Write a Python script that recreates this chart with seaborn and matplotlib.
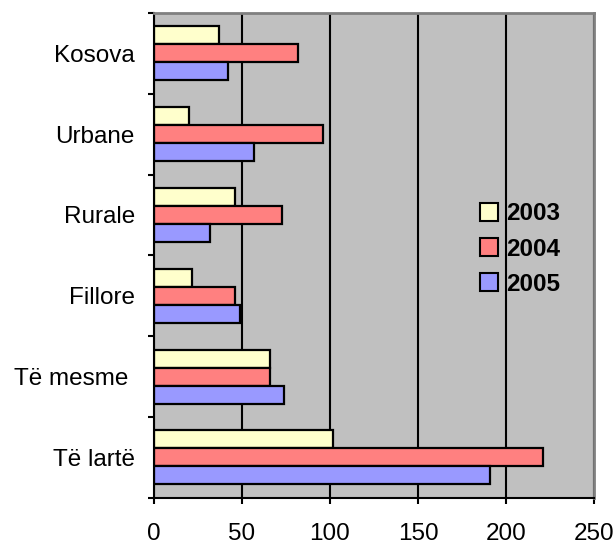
# Grouped horizontal bars, 2003-2005
import matplotlib
matplotlib.use("Agg")
import matplotlib.pyplot as plt
import seaborn as sns
import pandas as pd

categories = ["Kosova", "Urbane", "Rurale", "Fillore", "Të mesme ", "Të lartë"]
years = ["2003", "2004", "2005"]
v2003 = [37, 20, 46, 22, 66, 102]
v2004 = [82, 96, 73, 46, 66, 221]
v2005 = [42, 57, 32, 49, 74, 191]
colors = ["#FFFFCC", "#FF8080", "#9999FF"]

rows = []
for year, vals in zip(years, [v2003, v2004, v2005]):
    for cat, v in zip(categories, vals):
        rows.append({"cat": cat, "year": year, "value": v})
df = pd.DataFrame(rows)

sns.set_style("white")
plt.rcParams["font.family"] = ["Liberation Sans", "DejaVu Sans"]
plt.rcParams["text.color"] = "black"
plt.rcParams["xtick.color"] = "black"
plt.rcParams["ytick.color"] = "black"
plt.rcParams["xtick.labelcolor"] = "black"
plt.rcParams["ytick.labelcolor"] = "black"

fig = plt.figure(figsize=(6.16, 5.44), dpi=100)
ax = fig.add_axes([0.2495, 0.0851, 0.7153, 0.891])
ax.set_facecolor("#C0C0C0")
ax.set_axisbelow(True)

sns.barplot(data=df, x="value", y="cat", hue="year", order=categories,
            hue_order=years, palette=colors, orient="h", width=0.668,
            edgecolor="black", linewidth=1.6, saturation=1, ax=ax)

ax.set_xlim(0, 250)
ax.set_ylim(len(categories) - 0.5, -0.5)
ax.set_xticks([0, 50, 100, 150, 200, 250])
ax.xaxis.grid(True, color="black", linewidth=1.5)
ax.yaxis.grid(False)
ax.set_xlabel("")
ax.set_ylabel("")

# tick marks on the category boundaries, labels centred on groups
ax.set_yticks([i - 0.5 for i in range(len(categories) + 1)], minor=True)
ax.tick_params(axis="y", which="major", length=0, pad=13.5, labelsize=17.5)
ax.tick_params(axis="y", which="minor", left=True, length=4.5, width=1.5,
               color="black", direction="out")
ax.tick_params(axis="x", which="major", bottom=True, length=4.5, width=1.5,
               color="black", direction="out", pad=13.5, labelsize=17.5)

for side in ["left", "bottom"]:
    ax.spines[side].set_color("black")
    ax.spines[side].set_linewidth(1.5)
for side in ["top", "right"]:
    ax.spines[side].set_visible(True)
    ax.spines[side].set_color("#808080")
    ax.spines[side].set_linewidth(2)

leg = ax.legend(loc="center left", bbox_to_anchor=(0.69, 0.513), frameon=False,
                handlelength=0.75, handleheight=0.75, handletextpad=0.35,
                labelspacing=0.5, prop={"weight": "bold", "size": 17.5})
for h in leg.legend_handles:
    h.set_edgecolor("black")
    h.set_linewidth(1.5)

fig.savefig("out.png", dpi=100)
